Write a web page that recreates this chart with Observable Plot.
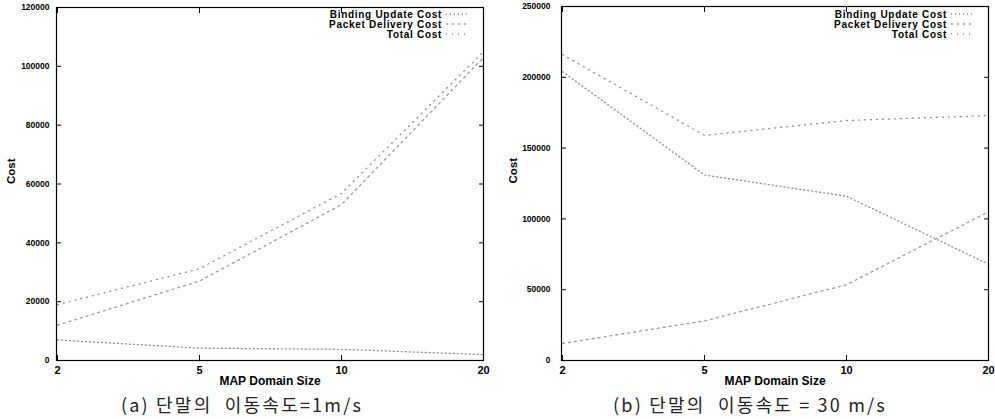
<!DOCTYPE html>
<html><head><meta charset="utf-8">
<script src="https://cdn.jsdelivr.net/npm/d3@7"></script>
<script src="https://cdn.jsdelivr.net/npm/@observablehq/plot@0.6"></script>
<style>
body{margin:0;background:#fff;}
#root{position:relative;width:995px;height:419px;overflow:hidden;background:#fff;}
.panel{position:absolute;top:0;}
.lrow{position:absolute;display:flex;align-items:center;gap:4px;height:10px;line-height:10px;white-space:nowrap;
  font:bold 10px "Liberation Sans",Arial,sans-serif;letter-spacing:0.7px;color:#000;}
.cap{position:absolute;font:18px "Noto Sans CJK KR",sans-serif;letter-spacing:2.2px;color:#222;white-space:pre;transform:translate(-50%,-50%);}
</style></head>
<body><div id="root"></div>
<script>
// ---- data ----
const domainSizes = [2, 5, 10, 20];
const seriesNames = ["Binding Update Cost", "Packet Delivery Cost", "Total Cost"];
// (a) speed 1 m/s
const bindingA = [7000, 4200, 3800, 2000];
const deliveryA = [12000, 27000, 53000, 103000];
const totalA = [19000, 31200, 56800, 105000];
// (b) speed 30 m/s
const bindingB = [204000, 131000, 116000, 68000];
const deliveryB = [12000, 28000, 53500, 105000];
const totalB = [216000, 159000, 169500, 173000];
const yTicksA = [0, 20000, 40000, 60000, 80000, 100000, 120000];
const yTicksB = [0, 50000, 100000, 150000, 200000, 250000];
const captionA = "(a) 단말의  이동속도=1m/s";
const captionB = "(b) 단말의  이동속도 = 30 m/s";
const xLabel = "MAP Domain Size";
const yLabel = "Cost";

const lineStroke = ["#8c8c8c", "#9a9a9a", "#8c8c8c"];
const lineDash = ["1,3", "2,4", "1,5"];

function makePanel(o) {
  const rows = [];
  seriesNames.forEach((s, k) => domainSizes.forEach((x, i) => rows.push({series: s, x, y: o.values[k][i]})));
  return Plot.plot({
    width: o.width, height: 392,
    marginLeft: o.ml, marginRight: o.mr, marginTop: o.mt, marginBottom: 32,
    style: {fontFamily: "'Liberation Sans', Arial, sans-serif", fontWeight: "bold", color: "#000", background: "#fff", overflow: "visible"},
    x: {type: "point", domain: domainSizes, padding: 0},
    y: {domain: [0, o.ymax]},
    marks: [
      ...seriesNames.map((s, k) => Plot.line(rows.filter(d => d.series === s), {
        x: "x", y: "y", stroke: lineStroke[k], strokeDasharray: lineDash[k], strokeWidth: 1.3
      })),
      Plot.frame({stroke: "#000", strokeWidth: 1.2}),
      Plot.axisY(o.yTicks, {anchor: "left", tickSize: 0, tickPadding: o.tp, tickFormat: d3.format("d"), fontSize: 8.5, label: null}),
      Plot.axisY(o.yTicks, {anchor: "left", tickSize: -5, tickFormat: () => "", label: null}),
      Plot.axisY(o.yTicks, {anchor: "right", tickSize: -5, tickFormat: () => "", label: null}),
      Plot.axisX(domainSizes, {anchor: "bottom", tickSize: 0, tickPadding: 6, fontSize: 11, label: null}),
      Plot.axisX(domainSizes, {anchor: "bottom", tickSize: -5, tickFormat: () => "", label: null}),
      Plot.axisX(domainSizes, {anchor: "top", tickSize: -5, tickFormat: () => "", label: null}),
      Plot.text([yLabel], {frameAnchor: "left", dx: o.costDx, rotate: -90, text: d => d, fontSize: 11.5, fontWeight: "bold"}),
      Plot.text([xLabel], {frameAnchor: "bottom", dy: 24, text: d => d, fontSize: 12, fontWeight: "bold"})
    ]
  });
}

const root = document.getElementById("root");
const cfg = [
  {left: 0, width: 495, ml: 56, mr: 12, mt: 7, tp: 7, costDx: -45, ymax: 120000, yTicks: yTicksA,
   values: [bindingA, deliveryA, totalA], legendRight: 470, caption: captionA, capX: 242},
  {left: 495, width: 500, ml: 66, mr: 7, mt: 6, tp: 11, costDx: -48, ymax: 250000, yTicks: yTicksB,
   values: [bindingB, deliveryB, totalB], legendRight: 975, caption: captionB, capX: 750}
];
cfg.forEach(o => {
  const div = document.createElement("div");
  div.className = "panel";
  div.style.left = o.left + "px";
  div.appendChild(makePanel(o));
  root.appendChild(div);
  // legend
  seriesNames.forEach((s, k) => {
    const row = document.createElement("div");
    row.className = "lrow";
    row.style.right = (995 - o.legendRight) + "px";
    row.style.top = (9 + 10 * k) + "px";
    const t = document.createElement("span");
    t.textContent = s;
    row.appendChild(t);
    const sv = document.createElementNS("http://www.w3.org/2000/svg", "svg");
    sv.setAttribute("width", 24); sv.setAttribute("height", 10);
    const ln = document.createElementNS("http://www.w3.org/2000/svg", "line");
    ln.setAttribute("x1", 0); ln.setAttribute("x2", 24); ln.setAttribute("y1", 5); ln.setAttribute("y2", 5);
    ln.setAttribute("stroke", lineStroke[k]); ln.setAttribute("stroke-dasharray", lineDash[k]); ln.setAttribute("stroke-width", 1.3);
    sv.appendChild(ln);
    row.appendChild(sv);
    root.appendChild(row);
  });
  const cap = document.createElement("div");
  cap.className = "cap";
  cap.textContent = o.caption;
  cap.style.left = o.capX + "px";
  cap.style.top = "404px";
  root.appendChild(cap);
});
</script>
</body></html>
